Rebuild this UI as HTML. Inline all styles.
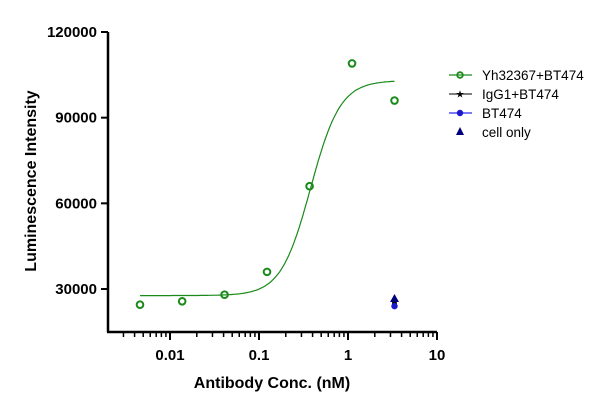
<!DOCTYPE html>
<html><head><meta charset="utf-8"><style>
body{margin:0;background:#fff;font-family:"Liberation Sans",Arial,sans-serif}
svg text{font-family:"Liberation Sans",Arial,sans-serif}
</style></head><body>
<svg width="610" height="403">
<g id="axes"></g><g id="marks"></g><g id="legend"></g>
</svg>
<script>
const concs=[0.0046,0.0137,0.041,0.123,0.37,1.11,3.33];
const yhValues=[24500,25700,28000,36000,66000,109000,96000];
const controlConc=[3.33];
const igg1Values=[25000];
const bt474Values=[24000];
const cellOnlyValues=[26500];
const fitParams=[27700,103000,0.38,2.6];
const yTicks=[30000,60000,90000,120000];
const xTickLabels=["0.01","0.1","1","10"];
const xTickValues=[0.01,0.1,1,10];

const NS="http://www.w3.org/2000/svg";
function mk(p,t,a){const e=document.createElementNS(NS,t);for(const k in a)e.setAttribute(k,a[k]);p.appendChild(e);return e;}
const X0=109,X1=437,Y0=331,Y1=32;
function sx(v){return 170+(Math.log10(v)+2)*89;}
function sy(v){return 289-(v-30000)*(257/90000);}
const ax=document.getElementById('axes'),mg=document.getElementById('marks'),lg=document.getElementById('legend');
let e=mk(ax,'line',{x1:108,y1:Y1,x2:108,y2:Y0+1,stroke:'#000','stroke-width':2.5});

e=mk(ax,'line',{x1:107,y1:332,x2:X1,y2:332,stroke:'#000','stroke-width':2.5});

yTicks.forEach(v=>{const y=sy(v);
 e=mk(ax,'line',{x1:101,y1:y,x2:108,y2:y,stroke:'#000','stroke-width':2});
 
 e=mk(ax,'text',{x:97,y:y+5,'text-anchor':'end','font-size':15,'font-weight':'bold'});e.textContent=v;
 });
for(let d=-3;d<1;d++)for(let m=1;m<10;m++){const v=m*Math.pow(10,d);const x=sx(v);if(x<X0||x>X1+1)continue;
 e=mk(ax,'line',{x1:x,y1:332,x2:x,y2:m==1?340:337,stroke:'#000','stroke-width':m==1?2:1.5});
 }
e=mk(ax,'line',{x1:sx(10),y1:332,x2:sx(10),y2:340,stroke:'#000','stroke-width':2});

xTickValues.forEach((v,i)=>{e=mk(ax,'text',{x:sx(v),y:360,'text-anchor':'middle','font-size':15,'font-weight':'bold'});e.textContent=xTickLabels[i];
 });
e=mk(ax,'text',{x:272,y:388,'text-anchor':'middle','font-size':16,'font-weight':'bold'});e.textContent='Antibody Conc. (nM)';

e=mk(ax,'text',{x:36,y:181,'text-anchor':'middle','font-size':16,'font-weight':'bold',transform:'rotate(-90 36 181)'});e.textContent='Luminescence Intensity';

const [b,t,ec,h]=fitParams;let d='';
for(let i=0;i<=200;i++){const lx=Math.log10(concs[0])+(Math.log10(concs[concs.length-1])-Math.log10(concs[0]))*i/200;const v=Math.pow(10,lx);
 const y=b+(t-b)/(1+Math.pow(ec/v,h));d+=(i?'L':'M')+sx(v).toFixed(1)+','+sy(y).toFixed(1);}
e=mk(mg,'path',{d:d,fill:'none',stroke:'#1a8a1a','stroke-width':1.2});

concs.forEach((c,i)=>{e=mk(mg,'circle',{cx:sx(c),cy:sy(yhValues[i]),r:3.3,fill:'none',stroke:'#1a8a1a','stroke-width':2});
 });
controlConc.forEach((c,i)=>{const x=sx(c);
 e=mk(mg,'circle',{cx:x,cy:sy(igg1Values[i]),r:2.5,fill:'#000'});
 e=mk(mg,'circle',{cx:x,cy:sy(bt474Values[i]),r:3.2,fill:'#1a1acc'});
 const y=sy(cellOnlyValues[i]);
 e=mk(mg,'polygon',{points:`${x},${y-5} ${x-4.5},${y+3} ${x+4.5},${y+3}`,fill:'#00007a'});});
const items=[['Yh32367+BT474','#1a8a1a','circle-open'],['IgG1+BT474','#333','star'],['BT474','#2a2aee','dot'],['cell only','#00007a','tri']];
items.forEach((it,i)=>{const y=75+i*19;const g=mk(lg,'g',{});
 
 if(it[2]!='tri')mk(g,'line',{x1:449,y1:y,x2:472,y2:y,stroke:it[1],'stroke-width':1.3});
 if(it[2]=='circle-open')mk(g,'circle',{cx:460,cy:y,r:2.8,fill:'none',stroke:it[1],'stroke-width':1.8});
 if(it[2]=='star'){const s=mk(g,'text',{x:460,y:y+3.5,'text-anchor':'middle','font-size':10,fill:'#000'});s.textContent='★';}
 if(it[2]=='dot')mk(g,'circle',{cx:460,cy:y,r:3.2,fill:'#1a1acc'});
 if(it[2]=='tri')mk(g,'polygon',{points:`460,${y-5} 456,${y+3} 464,${y+3}`,fill:it[1]});
 const tx=mk(g,'text',{x:482,y:y+5,'font-size':13.5,fill:'#000'});tx.textContent=it[0];});
</script>
</body></html>
